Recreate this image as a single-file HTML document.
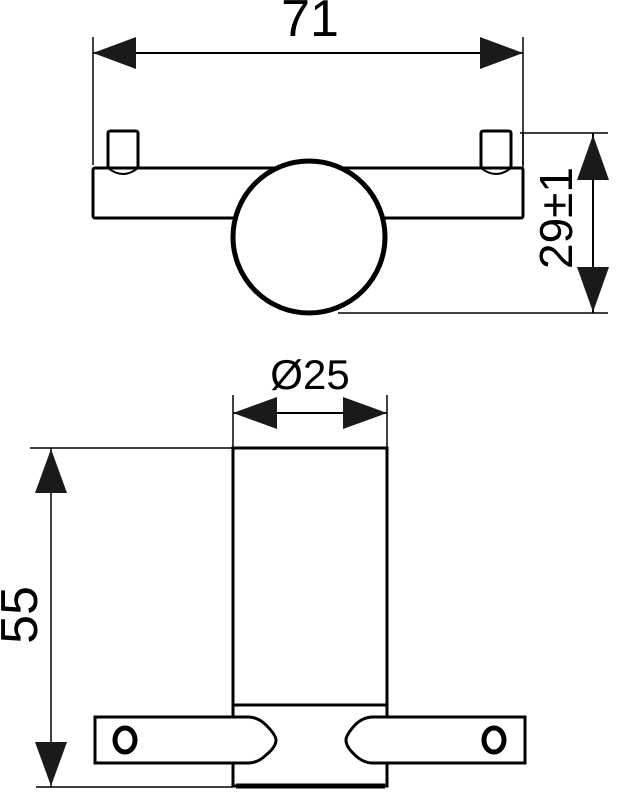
<!DOCTYPE html>
<html><head><style>body{margin:0;background:#fff}svg{display:block}</style></head><body>
<svg width="618" height="800" viewBox="0 0 618 800" xmlns="http://www.w3.org/2000/svg">
<g stroke="#000" fill="none">
<line x1="93" y1="37" x2="93" y2="165" stroke-width="1.5"/>
<line x1="523" y1="37" x2="523" y2="165" stroke-width="1.5"/>
<line x1="93" y1="53" x2="523" y2="53" stroke-width="2"/>
<path d="M108 133 Q108 131 111 131 L135 131 Q138 131 138 133 L138 168" stroke-width="3"/>
<line x1="108" y1="133" x2="108" y2="168" stroke-width="3"/>
<path d="M481 133 Q481 131 484 131 L508 131 Q511 131 511 133 L511 168" stroke-width="3"/>
<line x1="481" y1="133" x2="481" y2="168" stroke-width="3"/>
<path d="M108 168 Q123 180 138 168 M481 168 Q496 180 511 168" stroke-width="2"/>
<rect x="93" y="168" width="430" height="50" rx="2" stroke-width="3"/>
<circle cx="309" cy="237" r="76" fill="#fff" stroke-width="5"/>
<line x1="520" y1="133" x2="608" y2="133" stroke-width="1.5"/>
<line x1="338" y1="313" x2="608" y2="313" stroke-width="1.5"/>
<line x1="593" y1="133" x2="593" y2="313" stroke-width="2"/>
<line x1="523" y1="133" x2="523" y2="170" stroke-width="1.5"/>
<line x1="233" y1="395" x2="233" y2="448" stroke-width="1.5"/>
<line x1="387" y1="395" x2="387" y2="448" stroke-width="1.5"/>
<line x1="233" y1="413" x2="387" y2="413" stroke-width="2"/>
<line x1="30" y1="448" x2="233" y2="448" stroke-width="1.5"/>
<line x1="36" y1="787" x2="233" y2="787" stroke-width="1.5"/>
<line x1="51" y1="448" x2="51" y2="787" stroke-width="1.5"/>
<rect x="233" y="448" width="154" height="338" stroke-width="3"/>
<line x1="233" y1="705" x2="387" y2="705" stroke-width="3"/>
<line x1="236" y1="786" x2="385" y2="786" stroke-width="5"/>
<path d="M95 717 L248 717 Q258 717 266 725 Q276 735 276 740 Q276 747 266 755 Q258 763 248 763 L95 763 Z" fill="#fff" stroke-width="3"/>
<path d="M525 717 L373 717 Q363 717 355 725 Q346 735 346 740 Q346 747 355 755 Q363 763 373 763 L525 763 Z" fill="#fff" stroke-width="3"/>
<ellipse cx="125" cy="740" rx="10" ry="12" stroke-width="5"/>
<ellipse cx="494" cy="740" rx="10" ry="12" stroke-width="5"/>
</g>
<g fill="#1a1a1a">
<polygon points="93,53 136,37 136,69"/>
<polygon points="523,53 480,37 480,69"/>
<polygon points="593,135 577,180 609,180"/>
<polygon points="593,312 577,267 609,267"/>
<polygon points="233,413 277,397 277,429"/>
<polygon points="387,413 343,397 343,429"/>
<polygon points="51,449 35,493 67,493"/>
<polygon points="51,786 35,742 67,742"/>
</g>
<g font-family="Liberation Sans, sans-serif" font-weight="300" fill="#000">
<text x="310" y="36" font-size="52" text-anchor="middle">71</text>
<text x="310" y="389" font-size="42" text-anchor="middle">Ø25</text>
<text transform="translate(572,218) rotate(-90)" font-size="46" text-anchor="middle">29±1</text>
<text transform="translate(37,615) rotate(-90)" font-size="52" text-anchor="middle">55</text>
</g>
</svg>
</body></html>
